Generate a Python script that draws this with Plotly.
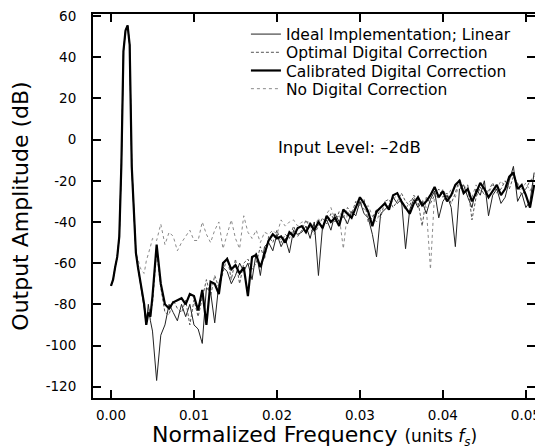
import plotly.graph_objects as go

# Frequency grid (units of fs): fine near the fundamental, coarser afterwards
freq = [round(i * 0.00025, 5) for i in range(21)] + [round(0.0055 + i * 0.0005, 5) for i in range(92)]

ideal = [
    -71, -68, -62, -57, -47, -12, 43, 53, 55.5, 46, -13, -38, -55, -62, -68, -74,
    -82, -90, -80, -88, -93,
    -117, -95, -90, -80, -84, -88, -80, -86, -80, -90,
    -92, -99, -72, -74, -89, -70, -62, -64, -70, -66,
    -60, -64, -60, -68, -55, -66, -52, -50, -54, -46,
    -52, -48, -55, -44, -46, -45, -42, -48, -40, -66,
    -42, -39, -44, -36, -40, -37, -41, -35, -37, -30,
    -36, -38, -46, -57, -36, -34, -32, -28, -31, -29,
    -53, -34, -29, -33, -30, -36, -29, -25, -38, -30,
    -27, -33, -52, -24, -22, -28, -33, -24, -27, -20,
    -37, -27, -24, -31, -28, -20, -13, -30, -26, -33,
    -30, -16,
]

optimal = [
    -71, -68, -62, -57, -47, -12, 43, 53, 55.5, 46, -13, -38, -55, -62, -68, -74,
    -80, -86, -84, -82, -80,
    -54, -72, -84, -85, -78, -82, -84, -78, -90, -78,
    -86, -77, -68, -76, -66, -72, -64, -57, -68, -58,
    -70, -60, -58, -63, -60, -52, -58, -47, -50, -44,
    -50, -46, -48, -42, -47, -44, -39, -43, -46, -42,
    -38, -41, -36, -40, -35, -38, -33, -36, -30, -32,
    -29, -40, -38, -34, -38, -30, -29, -33, -30, -26,
    -30, -32, -27, -30, -42, -28, -31, -27, -24, -28,
    -26, -31, -26, -19, -24, -22, -39, -28, -23, -27,
    -25, -21, -26, -24, -20, -24, -18, -21, -27, -24,
    -20, -18,
]

calibrated = [
    -71, -68, -62, -57, -47, -12, 43, 53, 55.5, 46, -13, -38, -55, -62, -68, -74,
    -80, -90, -84, -86, -76,
    -51, -70, -80, -82, -79, -78, -77, -80, -75, -76,
    -83, -73, -90, -69, -70, -75, -60, -58, -63, -61,
    -65, -62, -76, -57, -56, -62, -55, -49, -46, -48,
    -47, -50, -45, -47, -43, -42, -45, -41, -44, -40,
    -43, -37, -40, -38, -42, -34, -36, -38, -33, -28,
    -31, -35, -42, -35, -33, -31, -34, -27, -26, -30,
    -33, -36, -31, -28, -32, -30, -27, -23, -28, -25,
    -30, -27, -22, -20, -26, -24, -30, -26, -21, -24,
    -28, -25, -22, -27, -24, -18, -16, -24, -22, -27,
    -33, -22,
]

no_correction = [
    -71, -68, -62, -57, -47, -12, 43, 53, 55.5, 46, -13, -38, -55,
    -58, -62, -64, -65, -59, -56, -52, -48,
    -49, -41, -51, -45, -47, -54, -50, -47, -44, -49,
    -49, -40, -46, -50, -44, -40, -53, -46, -39, -48,
    -53, -37, -45, -48, -44, -50, -45, -46, -44, -46,
    -39, -42, -40, -39, -42, -40, -40, -40, -43, -38,
    -44, -36, -33, -39, -37, -53, -35, -37, -32, -30,
    -34, -32, -37, -40, -34, -30, -33, -29, -27, -31,
    -34, -30, -28, -32, -29, -33, -63, -26, -29, -24,
    -28, -24, -28, -21, -25, -23, -28, -22, -25, -23,
    -26, -22, -24, -20, -23, -19, -17, -22, -24, -21,
    -25, -20,
]

x_ticks = [0.0, 0.01, 0.02, 0.03, 0.04, 0.05]
x_tick_labels = ["0.00", "0.01", "0.02", "0.03", "0.04", "0.05"]
y_ticks = [-120, -100, -80, -60, -40, -20, 0, 20, 40, 60]
y_tick_labels = ["-120", "-100", "-80", "-60", "-40", "-20", "0", "20", "40", "60"]

FONT = "DejaVu Sans, Liberation Sans, Arial, sans-serif"

fig = go.Figure()
fig.add_trace(go.Scatter(x=freq, y=no_correction, mode="lines", name="No Digital Correction",
                         line=dict(color="#8a8a8a", width=1, dash="dot"), legend="legend4"))
fig.add_trace(go.Scatter(x=freq, y=ideal, mode="lines", name="Ideal Implementation; Linear",
                         line=dict(color="#222222", width=1), legend="legend"))
fig.add_trace(go.Scatter(x=freq, y=optimal, mode="lines", name="Optimal Digital Correction",
                         line=dict(color="#555555", width=1, dash="3px,2px"), legend="legend2"))
fig.add_trace(go.Scatter(x=freq, y=calibrated, mode="lines", name="Calibrated Digital Correction",
                         line=dict(color="#000000", width=2.2), legend="legend3"))

fig.add_annotation(x=0.0199, y=-3.6, xref="x", yref="y", text="Input Level: \u20132dB",
                   showarrow=False, xanchor="left", yanchor="middle",
                   font=dict(family=FONT, size=16.5, color="black"))

# x-axis title as a paper annotation so it can sit low, as in the reference
fig.add_annotation(x=0.5, y=-0.0599, xref="paper", yref="paper",
                   text="Normalized Frequency <span style='font-size:17px'>(units <i>f<sub>s</sub></i>)</span>",
                   showarrow=False, xanchor="center", yanchor="top", borderpad=0,
                   font=dict(family=FONT, size=22, color="black"))

axis_common = dict(showline=True, linecolor="black", linewidth=2, mirror="allticks",
                   ticks="inside", ticklen=8, tickwidth=2, tickcolor="black",
                   showgrid=False, zeroline=False, automargin=False,
                   ticklabeloverflow="allow",
                   tickfont=dict(family=FONT, size=13.5, color="black"))


def legend_row(ypos):
    return dict(x=0.346, y=ypos, xanchor="left", yanchor="middle",
                bgcolor="rgba(0,0,0,0)", borderwidth=0,
                font=dict(family=FONT, size=15.5, color="black"))


# The page body adds an 8px margin, so the figure is sized/margined to compensate.
fig.update_layout(
    width=535, height=440,
    margin=dict(l=85, r=8, t=6, b=50),
    paper_bgcolor="white", plot_bgcolor="white",
    font=dict(family=FONT, color="black"),
    showlegend=True,
    legend=legend_row(0.9466),
    legend2=legend_row(0.8992),
    legend3=legend_row(0.8518),
    legend4=legend_row(0.8044),
    xaxis=dict(range=[-0.00217, 0.0511], tickvals=x_ticks, ticktext=x_tick_labels,
               ticklabelstandoff=4,
               **axis_common),
    yaxis=dict(range=[-125.5, 61], tickvals=y_ticks, ticktext=y_tick_labels,
               title=dict(text="Output Amplitude (dB)", font=dict(family=FONT, size=22), standoff=12),
               ticklabelstandoff=12,
               **axis_common),
)

fig.write_html("out.html")
